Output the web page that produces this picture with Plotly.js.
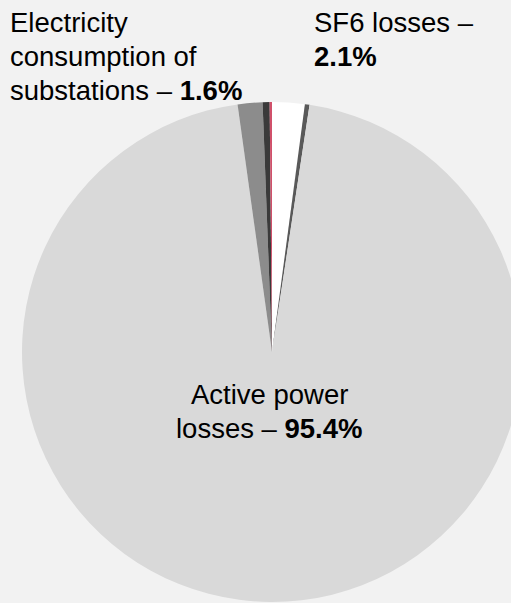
<!DOCTYPE html>
<html>
<head>
<meta charset="utf-8">
<script src="https://cdn.plot.ly/plotly-3.0.1.min.js"></script>
<style>
html,body{margin:0;padding:0;overflow:hidden;background:#f2f2f2;width:511px;height:603px;}
#chart{width:544px;height:603px;}
</style>
</head>
<body>
<div id="chart"></div>
<script>
// Data (clockwise from 12 o'clock)
const categories = ["SF6 losses", "Other (a)", "Active power losses", "Electricity consumption of substations", "Other (b)", "Other (c)"];
const shares = [2.1, 0.3, 95.4, 1.6, 0.45, 0.15];
const sliceColors = ["#ffffff", "#595959", "#d9d9d9", "#8c8c8c", "#3a3a3a", "#d0506a"];
const labelLines = {
  "Electricity consumption of substations": ["Electricity", "consumption of", "substations – "],
  "SF6 losses": ["SF6 losses –", ""],
  "Active power losses": ["Active power", "losses – "]
};

function linesFor(name) {
  const idx = categories.indexOf(name);
  const lines = labelLines[name].slice();
  lines[lines.length - 1] += "<b>" + shares[idx].toFixed(1) + "%</b>";
  return lines;
}

const W = 544, H = 603;
const FS = 27.5;
const trace = {
  type: "pie",
  labels: categories,
  values: shares,
  sort: false,
  direction: "clockwise",
  rotation: 0,
  marker: {colors: sliceColors, line: {width: 0}},
  textinfo: "none",
  hoverinfo: "label+percent",
  showlegend: false,
  domain: {x: [0, 1], y: [1 / H, 501 / H]}
};

const fnt = {family: "Liberation Sans, Arial, sans-serif", size: FS, color: "#000000"};
const annotations = [];
function addBlock(name, xpx, anchor, baselines) {
  linesFor(name).forEach((t, i) => {
    annotations.push({
      text: t, xref: "paper", yref: "paper", showarrow: false, font: fnt, borderpad: 0,
      x: xpx / W, y: 1 - (baselines[i] - 0.92 * FS) / H,
      xanchor: anchor, yanchor: "top", align: anchor === "center" ? "center" : "left"
    });
  });
}
addBlock("Electricity consumption of substations", 9, "left", [31, 65, 99]);
addBlock("SF6 losses", 313, "left", [31, 65]);
addBlock("Active power losses", 269, "center", [403, 437]);

const layout = {
  width: W, height: H,
  margin: {l: 0, r: 0, t: 0, b: 0, pad: 0},
  paper_bgcolor: "#f2f2f2",
  plot_bgcolor: "#f2f2f2",
  annotations: annotations
};

Plotly.newPlot("chart", [trace], layout, {displayModeBar: false, staticPlot: true});
</script>
</body>
</html>
